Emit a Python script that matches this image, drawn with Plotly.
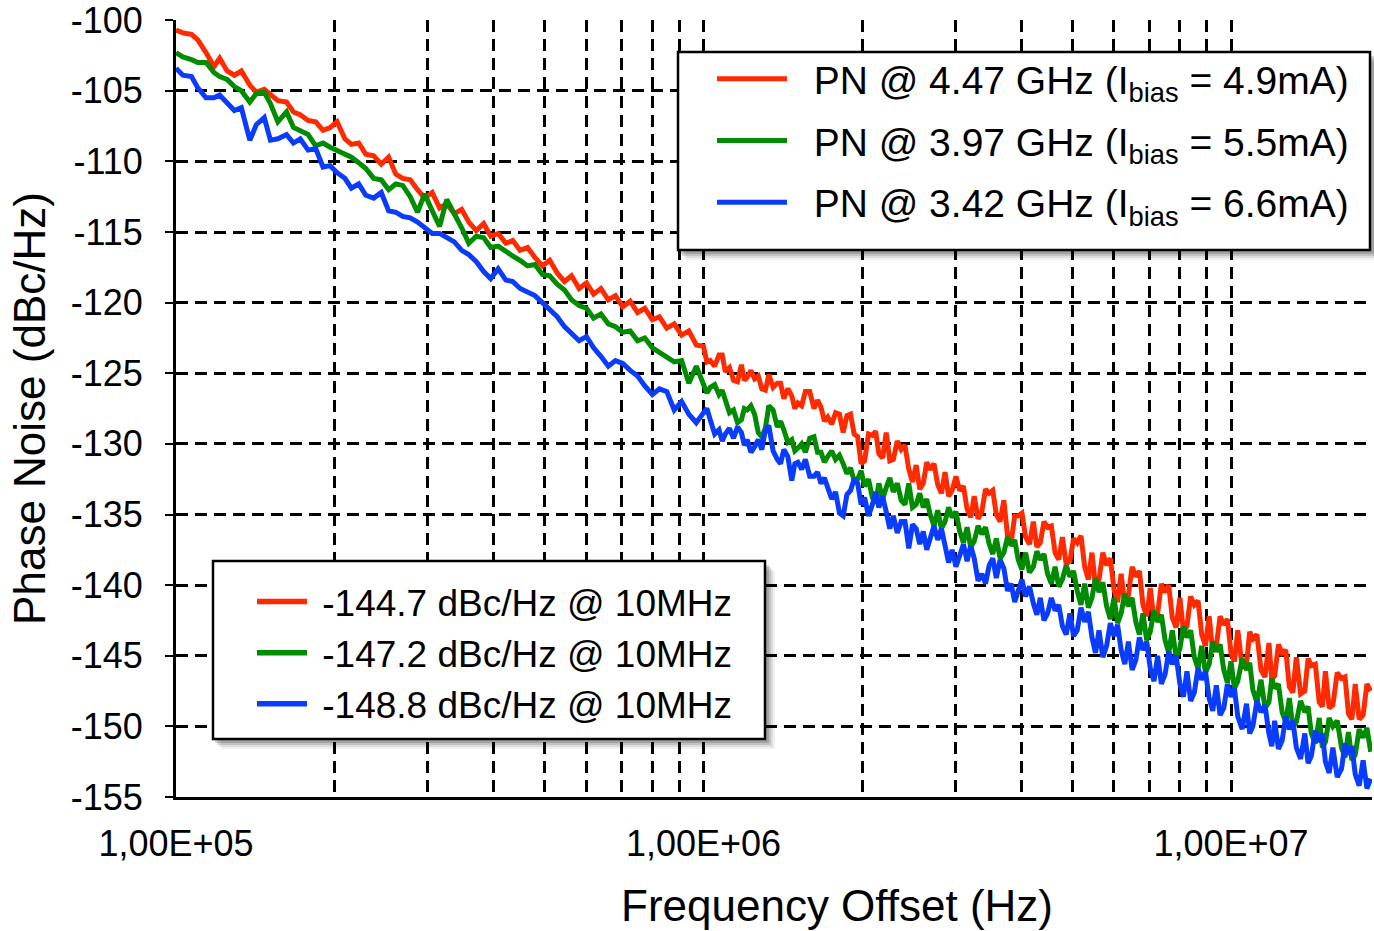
import plotly.graph_objects as go

# ---------------- data ----------------
mantissa = [1.00, 1.03, 1.07, 1.10, 1.14, 1.18, 1.21, 1.25, 1.29, 1.33, 1.38, 1.42,
            1.47, 1.51, 1.56, 1.62, 1.67, 1.72, 1.78, 1.84, 1.90, 1.96, 2.02, 2.09,
            2.15, 2.22, 2.29, 2.37, 2.45, 2.53, 2.61, 2.69, 2.78, 2.87, 2.96, 3.06,
            3.16, 3.26, 3.37, 3.48, 3.59, 3.71, 3.83, 3.95, 4.08, 4.22, 4.35, 4.49,
            4.64, 4.79, 4.95, 5.11, 5.28, 5.45, 5.62, 5.81, 6.00, 6.19, 6.39, 6.60,
            6.81, 7.03, 7.26, 7.50, 7.74, 8.00, 8.25, 8.52, 8.80, 9.09, 9.38, 9.69]
# extra (denser) sweep points above 1 MHz
mid_mantissa = [1.015, 1.05, 1.085, 1.12, 1.16, 1.195, 1.23, 1.27, 1.31, 1.355,
                1.40, 1.445, 1.49, 1.535, 1.59, 1.645, 1.695, 1.75, 1.81, 1.87,
                1.93, 1.99, 2.055, 2.12, 2.185, 2.255, 2.33, 2.41, 2.49, 2.57,
                2.65, 2.735, 2.825, 2.915, 3.01, 3.11, 3.21, 3.315, 3.425, 3.535,
                3.65, 3.77, 3.89, 4.015, 4.15, 4.285, 4.42, 4.565, 4.715, 4.87,
                5.03, 5.195, 5.365, 5.535, 5.715, 5.905, 6.095, 6.29, 6.495, 6.705,
                6.92, 7.145, 7.38, 7.62, 7.87, 8.125, 8.385, 8.66, 8.945, 9.235,
                9.535, 9.845]
decades = [1e5, 1e6]
last_decade = 1e7
freq_hz = [m * d for d in decades for m in mantissa] + [m * last_decade for m in mantissa if m <= 1.85]
mid_freq_hz = [m * 1e6 for m in mid_mantissa] + [m * last_decade for m in mid_mantissa if m <= 1.82]

red_db = [
    -100.7, -100.9, -101.0, -101.4, -102.3, -103.3, -102.7, -103.6, -103.9, -103.6,
    -104.6, -105.1, -104.9, -105.3, -105.7, -105.8, -106.5, -106.7, -107.1, -107.2,
    -107.8, -107.6, -107.2, -108.4, -108.8, -108.7, -109.5, -109.6, -110.2, -109.7,
    -110.9, -111.2, -111.3, -112.0, -112.6, -112.2, -113.3, -113.0, -113.7, -113.4,
    -114.3, -114.9, -114.4, -115.3, -115.1, -115.8, -115.6, -116.3, -116.1, -116.8,
    -117.4, -117.0, -117.9, -118.5, -118.1, -119.0, -118.6, -119.4, -119.0, -119.8,
    -119.5, -120.3, -119.9, -120.7, -120.4, -121.2, -121.0, -121.8, -121.5, -122.3,
    -122.0, -123.0,
    -123.1, -124.1, -123.7, -124.9, -125.5, -124.4, -125.3, -125.4, -126.1, -125.1,
    -125.7, -126.8, -126.6, -127.1, -126.3, -127.5, -127.4, -128.1, -127.8, -129.2,
    -127.9, -129.5, -131.2, -129.4, -130.7, -129.2, -131.1, -130.4, -131.8, -131.5,
    -132.8, -131.8, -132.9, -132.0, -133.3, -133.3, -134.6, -133.7, -134.8, -133.5,
    -135.0, -134.0, -137.0, -135.1, -136.6, -135.5, -137.0, -135.9, -137.7, -136.6,
    -138.3, -137.0, -138.7, -137.7, -139.6, -138.6, -140.3, -139.2, -140.7, -139.4,
    -141.4, -140.2, -142.0, -140.5, -142.3, -140.9, -142.9, -141.4, -143.5, -142.2,
    -144.3, -142.8,
    -144.8, -143.2, -145.6, -143.8, -146.0, -144.1, -146.4, -144.8, -147.2, -145.1,
    -147.5, -145.7, -148.3, -146.1, -148.5, -146.6, -149.1, -147.0, -149.2, -147.5,
]
red_mid_db = [
    -124.2, -124.5, -123.7, -124.6, -125.6, -125.5, -124.8, -125.2, -126.2, -126.0,
    -125.7, -126.1, -127.5, -127.3, -126.3, -126.9, -128.4, -128.6, -127.9, -128.0,
    -129.3, -131.4, -129.3, -129.1, -131.0, -131.2, -129.8, -130.1, -132.7, -133.2,
    -131.3, -131.4, -133.5, -133.7, -132.3, -133.0, -135.2, -135.3, -133.2, -133.3,
    -135.5, -136.5, -135.1, -134.9, -137.1, -137.3, -135.5, -135.8, -138.2, -138.5,
    -136.7, -136.5, -139.6, -140.1, -137.7, -138.1, -141.2, -141.4, -138.7, -139.0,
    -142.2, -142.5, -139.9, -140.0, -143.0, -143.3, -140.8, -141.1, -144.3, -144.7,
    -142.2, -142.4,
    -145.4, -145.8, -143.3, -143.5, -146.5, -146.7, -144.2, -144.6, -147.6, -147.7,
    -145.2, -145.6, -148.6, -148.7, -146.2, -146.5, -149.5, -149.5, -147.0,
]

green_db = [
    -102.3, -102.6, -102.8, -103.0, -103.0, -103.7, -104.0, -104.2, -104.7, -105.0,
    -105.8, -105.2, -105.1, -105.9, -107.2, -106.5, -107.6, -107.8, -108.1, -108.9,
    -108.7, -109.0, -109.2, -109.5, -109.7, -110.1, -110.5, -111.2, -111.3, -112.0,
    -111.6, -111.7, -112.5, -113.6, -112.3, -113.5, -114.6, -112.7, -113.7, -114.7,
    -115.8, -115.3, -115.4, -116.1, -116.0, -116.4, -116.7, -117.0, -117.4, -117.3,
    -118.0, -118.1, -118.7, -119.1, -119.8, -120.2, -120.4, -121.1, -120.8, -121.5,
    -121.7, -122.1, -122.0, -122.7, -122.5, -123.2, -123.5, -123.9, -124.2, -124.1,
    -125.7, -124.5,
    -125.7, -126.0, -126.5, -126.9, -127.6, -128.3, -127.6, -127.9, -129.5, -127.3,
    -128.8, -129.0, -129.7, -130.3, -130.6, -129.5, -130.6, -130.9, -131.1, -131.4,
    -131.7, -132.5, -133.0, -133.8, -132.8, -133.1, -133.4, -134.0, -132.8, -134.3,
    -134.5, -135.0, -134.7, -135.5, -135.2, -136.2, -135.9, -136.9, -136.4, -137.1,
    -136.7, -137.7, -137.2, -138.2, -137.7, -138.7, -138.2, -139.2, -138.7, -139.6,
    -139.4, -140.4, -139.9, -140.9, -140.5, -141.5, -140.9, -142.0, -141.5, -142.6,
    -142.0, -143.3, -142.6, -143.9, -143.2, -144.5, -143.7, -145.1, -144.3, -145.6,
    -144.7, -146.0,
    -145.4, -146.8, -146.0, -147.4, -146.7, -148.3, -147.3, -149.0, -148.0, -149.7,
    -149.0, -150.5, -149.4, -151.1, -150.0, -151.5, -150.4, -152.0, -150.8, -151.8,
]
green_mid_db = [
    -126.4, -125.8, -126.2, -127.8, -128.5, -127.5, -127.3, -129.2, -128.9, -127.6,
    -128.4, -129.9, -130.5, -130.0, -129.6, -130.6, -131.3, -130.5, -130.8, -132.1,
    -132.6, -131.9, -132.5, -134.2, -133.9, -132.4, -132.8, -134.3, -134.5, -133.5,
    -133.9, -135.8, -136.0, -134.5, -134.8, -137.0, -137.3, -135.8, -135.9, -137.8,
    -138.1, -136.6, -136.8, -138.9, -139.1, -137.6, -137.8, -139.9, -140.1, -138.6,
    -139.0, -141.4, -141.6, -139.5, -139.8, -142.4, -142.7, -140.6, -140.9, -143.5,
    -143.9, -141.8, -142.1, -144.8, -145.1, -142.9, -143.2, -145.9, -146.2, -144.0,
    -144.2, -146.9,
    -147.3, -145.2, -145.5, -148.3, -148.7, -146.6, -147.0, -149.7, -150.1, -148.2,
    -148.6, -151.2, -151.5, -149.4, -149.6, -152.2, -152.4, -150.2, -150.1,
]

blue_db = [
    -103.4, -103.9, -104.0, -104.8, -105.5, -105.5, -105.3, -105.8, -106.4, -106.2,
    -108.5, -107.4, -106.9, -108.5, -108.4, -108.1, -108.7, -108.4, -109.2, -109.1,
    -110.4, -110.3, -110.8, -111.2, -111.9, -111.6, -112.4, -112.6, -112.2, -113.5,
    -113.6, -113.9, -114.0, -114.3, -114.7, -115.1, -115.1, -115.4, -115.7, -116.3,
    -116.6, -117.1, -117.8, -118.3, -117.6, -118.4, -118.5, -119.0, -119.3, -119.5,
    -120.0, -120.5, -121.0, -121.7, -122.2, -122.7, -122.4, -123.2, -123.8, -124.5,
    -124.1, -124.3, -124.8, -125.2, -125.9, -126.5, -126.1, -126.3, -127.6, -127.0,
    -127.9, -128.5,
    -127.8, -128.3, -129.0, -129.3, -129.6, -129.2, -129.7, -130.2, -130.4, -128.7,
    -131.1, -130.4, -132.6, -131.3, -131.1, -132.3, -132.8, -133.1, -133.4, -135.1,
    -133.3, -132.8, -133.8, -134.3, -134.5, -134.8, -135.1, -135.5, -137.4, -136.0,
    -136.2, -136.7, -136.8, -137.2, -137.5, -137.9, -138.3, -138.1, -139.2, -138.6,
    -139.5, -138.8, -139.9, -140.4, -140.8, -141.3, -140.9, -142.0, -141.8, -142.9,
    -142.0, -143.2, -142.6, -143.7, -143.2, -144.3, -143.6, -144.6, -144.0, -145.3,
    -144.6, -145.9, -145.0, -146.3, -145.6, -147.0, -146.1, -147.6, -146.7, -148.0,
    -147.1, -148.7,
    -147.9, -149.3, -148.4, -150.0, -149.0, -150.5, -149.6, -151.0, -150.2, -151.5,
    -150.5, -152.1, -151.1, -152.5, -151.5, -153.0, -152.0, -153.4, -152.4, -153.7,
]
blue_mid_db = [
    -127.5, -129.3, -129.8, -128.9, -128.8, -130.1, -130.6, -129.7, -129.0, -130.5,
    -131.4, -130.9, -131.4, -131.8, -132.3, -132.0, -132.4, -133.9, -134.9, -133.6,
    -132.5, -134.3, -135.1, -133.4, -133.7, -136.0, -136.3, -135.5, -135.7, -137.1,
    -137.5, -135.8, -136.0, -138.4, -138.7, -137.1, -137.2, -139.7, -139.9, -138.1,
    -138.2, -140.4, -141.2, -139.6, -140.1, -142.1, -142.5, -140.9, -141.4, -143.5,
    -143.6, -141.6, -141.9, -144.8, -145.1, -142.7, -142.8, -145.6, -146.0, -143.7,
    -144.0, -146.8, -147.0, -144.7, -145.0, -147.9, -148.2, -145.9, -146.1, -148.9,
    -149.2, -147.0,
    -147.3, -150.2, -150.5, -148.2, -148.5, -151.4, -151.6, -149.3, -149.6, -152.3,
    -152.6, -150.3, -150.5, -153.3, -153.6, -151.2, -151.4, -154.2, -154.4,
]

series_names = [
    "PN @ 4.47 GHz (I<sub>bias</sub> = 4.9mA)",
    "PN @ 3.97 GHz (I<sub>bias</sub> = 5.5mA)",
    "PN @ 3.42 GHz (I<sub>bias</sub> = 6.6mA)",
]
fom_labels = [
    "-144.7 dBc/Hz @ 10MHz",
    "-147.2 dBc/Hz @ 10MHz",
    "-148.8 dBc/Hz @ 10MHz",
]
y_ticks = [-100, -105, -110, -115, -120, -125, -130, -135, -140, -145, -150, -155]
y_ticklabels = ["-100", "-105", "-110", "-115", "-120", "-125", "-130", "-135",
                "-140", "-145", "-150", "-155"]
x_ticks = [1e5, 1e6, 1e7]
x_ticklabels = ["1,00E+05", "1,00E+06", "1,00E+07"]
x_minor = [k * d for d in decades for k in range(2, 10)]

# ---------------- styling ----------------
colors = ["#FF2A00", "#008C00", "#0A3CFF"]
FONT = "Liberation Sans, Arial, Helvetica, sans-serif"
GRID = dict(color="black", width=2.5, dash="12px,7px")
NB = "\u00a0"

W, H = 1374, 931
ML, MR, MT, MB = 176, 2, 20, 134
PW, PH = W - ML - MR, H - MT - MB


def px2paper(px, py):
    return (px - ML) / PW, 1 - (py - MT) / PH


def merged(main_y, mid_y):
    pts = sorted(zip(freq_hz + mid_freq_hz, main_y + mid_y))
    return [p[0] for p in pts], [p[1] for p in pts]


fig = go.Figure()
for (ys, ms), name, col in zip([(red_db, red_mid_db), (green_db, green_mid_db), (blue_db, blue_mid_db)],
                               series_names, colors):
    xs, yy = merged(ys, ms)
    fig.add_trace(go.Scatter(x=xs, y=yy, mode="lines", name=NB * 2 + name,
                             line=dict(color=col, width=5),
                             legend="legend", legendgroup=name))
for lab, col in zip(fom_labels, colors):
    fig.add_trace(go.Scatter(x=[None], y=[None], mode="lines", name=NB + lab,
                             line=dict(color=col, width=5.5),
                             legend="legend2", legendgroup=lab))

# legend frames with soft drop shadows
boxes = [(678, 52, 1370, 250), (213, 561, 765, 739)]
for (x0, y0, x1, y1) in boxes:
    for off, alpha in [(10, 0.06), (8, 0.08), (6, 0.12), (4, 0.16)]:
        a0, b0 = px2paper(x0 + off - 2, y0 + off)
        a1, b1 = px2paper(x1 + off, y1 + off)
        fig.add_shape(type="rect", xref="paper", yref="paper", x0=a0, y0=b1, x1=a1, y1=b0,
                      fillcolor="rgba(0,0,0,%.2f)" % alpha, line=dict(width=0), layer="above")
    a0, b0 = px2paper(x0, y0)
    a1, b1 = px2paper(x1, y1)
    fig.add_shape(type="rect", xref="paper", yref="paper", x0=a0, y0=b1, x1=a1, y1=b0,
                  fillcolor="white", line=dict(color="black", width=2.5), layer="above")

lx1, ly1 = px2paper(712, 47)
lx2, ly2 = px2paper(252, 571)
tx, ty = px2paper(837, 905)

fig.add_annotation(text="Frequency Offset (Hz)", xref="paper", yref="paper", x=tx, y=ty,
                   xanchor="center", yanchor="middle", showarrow=False,
                   font=dict(family=FONT, size=44, color="black"))

fig.update_layout(
    width=W, height=H,
    margin=dict(l=ML, r=MR, t=MT, b=MB, autoexpand=False),
    paper_bgcolor="white", plot_bgcolor="white",
    font=dict(family=FONT, color="black"),
    showlegend=True,
    legend=dict(x=lx1, y=ly1, xanchor="left", yanchor="top", bgcolor="rgba(0,0,0,0)",
                borderwidth=0, font=dict(size=39, family=FONT),
                itemwidth=70, tracegroupgap=8),
    legend2=dict(x=lx2, y=ly2, xanchor="left", yanchor="top", bgcolor="rgba(0,0,0,0)",
                 borderwidth=0, font=dict(size=37, family=FONT),
                 itemwidth=50, tracegroupgap=0),
    xaxis=dict(type="log", range=[5, 7.2673], tickvals=x_ticks, ticktext=x_ticklabels,
               showgrid=True, gridcolor=GRID["color"], gridwidth=GRID["width"], griddash=GRID["dash"],
               minor=dict(tickvals=x_minor, showgrid=True, gridcolor=GRID["color"],
                          gridwidth=GRID["width"], griddash=GRID["dash"]),
               showline=True, linecolor="black", linewidth=3, ticks="", zeroline=False,
               tickfont=dict(size=36, family=FONT), ticklabelstandoff=13,
               ticklabeloverflow="allow"),
    yaxis=dict(range=[-155, -99.99], tickvals=y_ticks, ticktext=y_ticklabels,
               showgrid=True, gridcolor=GRID["color"], gridwidth=GRID["width"], griddash=GRID["dash"],
               showline=True, linecolor="black", linewidth=3, ticks="outside", ticklen=8,
               tickwidth=2, tickcolor="black", zeroline=False,
               tickfont=dict(size=36, family=FONT), ticklabelstandoff=15,
               ticklabeloverflow="allow",
               title=dict(text="Phase Noise (dBc/Hz)", font=dict(size=44, family=FONT),
                          standoff=12)),
)

fig.write_html("out.html")
